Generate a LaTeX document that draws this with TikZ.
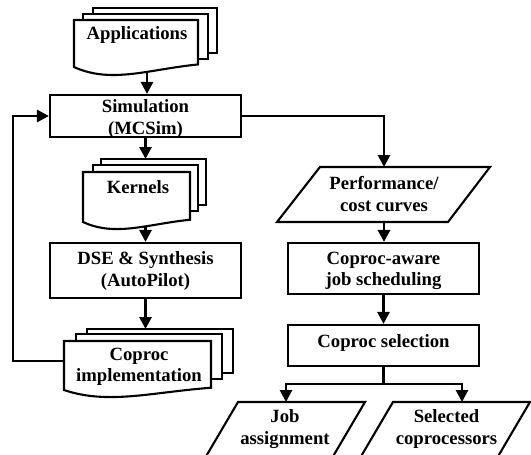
\documentclass[tikz,border=0pt]{standalone}
\usepackage{fontspec}
\setmainfont{Liberation Serif}
\usetikzlibrary{arrows.meta}
\newcommand\frontsheet[5]{%
  \draw[sheet] (#1,#2) -- (#3,#2) -- (#3,{#4-0.15*#5})
    .. controls ({#1+0.6*(#3-#1)},{#4+#5*0.14}) and ({#1+0.3*(#3-#1)},{#4+#5}) .. (#1,#4) -- cycle;}
\begin{document}
\begin{tikzpicture}[x=1pt,y=-1pt,
  sheet/.style={draw, line width=2.1pt, fill=white},
  box/.style={draw, line width=2.1pt, fill=white, inner sep=0pt},
  lbl/.style={align=center, font=\bfseries\fontsize{18.7pt}{21.5pt}\selectfont, inner sep=0pt},
  flow/.style={line width=2.8pt, -{Triangle[length=12pt,width=12pt]}},
  link/.style={line width=2.8pt}]
\useasboundingbox (0,0) rectangle (531,455);
\clip (0,0) rectangle (531,455);

% Applications stack
\draw[sheet] (93,8) rectangle (217,53);
\draw[sheet] (83,14) rectangle (208,59);
\frontsheet{74}{20}{198}{67}{17}
\node[lbl] (app) at (137,35) {Applications};
\coordinate (appout) at (147,72);

% Simulation
\node[box, minimum width=191pt, minimum height=42pt] (sim) at (145.5,116) {};
\node[lbl] (simtxt) at (145.5,119) {Simulation\\(MCSim)};

% Kernels stack
\draw[sheet] (101,159) rectangle (206,205);
\draw[sheet] (93,165) rectangle (198,211);
\frontsheet{83}{172}{190}{222}{15}
\node[lbl] (kern) at (138,187) {Kernels};
\coordinate (kernin) at (145.5,159);
\coordinate (kernout) at (145.5,226);

% DSE
\node[box, minimum width=191pt, minimum height=55pt] (dse) at (145.5,270.5) {};
\node[lbl] (dsetxt) at (145.5,271) {DSE \& Synthesis\\(AutoPilot)};

% Coproc implementation stack
\draw[sheet] (87,329) rectangle (233,373);
\draw[sheet] (76,334) rectangle (222,379);
\frontsheet{64}{341}{211}{390}{15}
\node[lbl] (cop) at (139,367) {Coproc\\implementation};
\coordinate (copin) at (145.5,329);
\coordinate (copleft) at (64,361);
\coordinate (fb) at (13,361);

% Performance/cost curves
\draw[box] (320,167) -- (490,167) -- (448,222) -- (277,222) -- cycle;
\node[lbl] (perf) at (384,194) {Performance/\\cost curves};
\coordinate (perfin) at (384,167);
\coordinate (perfout) at (384,222);

% Coproc-aware job scheduling
\node[box, minimum width=191pt, minimum height=51pt] (sched) at (383.5,268.5) {};
\node[lbl] (schedtxt) at (383.5,271) {Coproc-aware\\job scheduling};

% Coproc selection
\node[box, minimum width=191pt, minimum height=41pt] (sel) at (383.5,345.5) {};
\node[lbl] (seltxt) at (383.5,343) {Coproc selection};
\coordinate (split) at (383.5,384);

% Outputs
\draw[box] (238,402) -- (365,402) -- (325,470) -- (198,470) -- cycle;
\node[lbl] (job) at (285,429) {Job\\assignment};
\coordinate (jobin) at (286,402);
\draw[box] (393,402) -- (530,402) -- (490,470) -- (353,470) -- cycle;
\node[lbl] (selc) at (446.5,429) {Selected\\coprocessors};
\coordinate (selin) at (462,402);

% Connectors
\draw[flow] (appout) -- (appout |- sim.north);
\draw[flow] (sim.south) -- (kernin);
\draw[flow] (kernout) -- (dse.north);
\draw[flow] (dse.south) -- (copin);
\draw[flow] (copleft) -- (fb) |- (sim.west);
\draw[flow] (sim.east) -| (perfin);
\draw[flow] (perfout) -- (perfout |- sched.north);
\draw[flow] (sched.south) -- (sel.north);
\draw[link] (sel.south) -- (split);
\draw[flow] (split) -| (jobin);
\draw[flow] (split) -| (selin);
\end{tikzpicture}
\end{document}
